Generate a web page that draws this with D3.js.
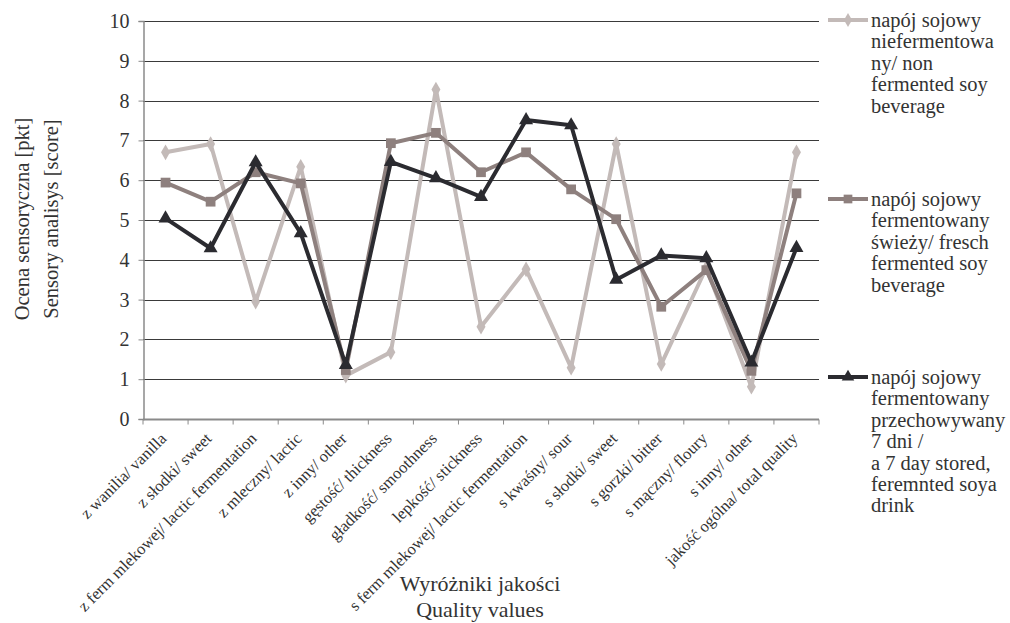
<!DOCTYPE html>
<html>
<head>
<meta charset="utf-8">
<script src="https://cdn.jsdelivr.net/npm/d3@7"></script>
<style>
  html, body { margin: 0; padding: 0; background: #fff; }
  svg { display: block; }
</style>
</head>
<body>
<svg id="chart" width="1010" height="623" font-family="Liberation Serif"></svg>
<script>
// Sensory attributes (x categories)
const categories = [
  "z wanilia/ vanilla",
  "z słodki/ sweet",
  "z ferm mlekowej/ lactic fermentation",
  "z mleczny/ lactic",
  "z inny/ other",
  "gęstość/ thickness",
  "gładkość/ smoothness",
  "lepkość/ stickness",
  "s ferm mlekowej/ lactic fermentation",
  "s kwaśny/ sour",
  "s słodki/ sweet",
  "s gorzki/ bitter",
  "s mączny/ floury",
  "s inny/ other",
  "jakość ogólna/ total quality"
];

// Scores per beverage
const nonFermented = [6.70, 6.91, 2.95, 6.34, 1.09, 1.68, 8.28, 2.32, 3.76, 1.29, 6.91, 1.38, 3.80, 0.81, 6.70];
const freshFermented = [5.94, 5.46, 6.20, 5.92, 1.23, 6.93, 7.19, 6.20, 6.70, 5.77, 5.02, 2.82, 3.74, 1.21, 5.67];
const storedFermented = [5.04, 4.29, 6.45, 4.67, 1.36, 6.46, 6.05, 5.58, 7.51, 7.38, 3.50, 4.11, 4.04, 1.42, 4.30];

const yTicks = [0, 1, 2, 3, 4, 5, 6, 7, 8, 9, 10];

const legendLabels = [
  ["napój sojowy", "niefermentowa", "ny/ non", "fermented soy", "beverage"],
  ["napój sojowy", "fermentowany", "świeży/ fresch", "fermented soy", "beverage"],
  ["napój sojowy", "fermentowany", "przechowywany", "7 dni /", "a 7 day stored,", "feremnted soya", "drink"]
];

const yTitle = ["Ocena sensoryczna [pkt]", "Sensory analisys [score]"];
const xTitle = ["Wyróżniki jakości", "Quality values"];

const FONT = "Liberation Serif";
const TEXT = "#333";

const seriesStyle = [
  { data: nonFermented, color: "#c3bab8", symbol: d3.symbolDiamond, size: 70 },
  { data: freshFermented, color: "#8e807e", symbol: d3.symbolSquare, size: 95 },
  { data: storedFermented, color: "#2b2b30", symbol: d3.symbolTriangle, size: 85 }
];

const svg = d3.select("#chart");
const m = { left: 143, right: 191, top: 21, bottom: 204 };
const W = 1010, H = 623;

const x = d3.scaleBand().domain(categories).range([m.left, W - m.right]).paddingInner(0).paddingOuter(0);
const y = d3.scaleLinear().domain([0, 10]).range([H - m.bottom, m.top]);

// Horizontal gridlines
svg.append("g")
  .selectAll("line")
  .data(yTicks.filter(t => t > 0))
  .join("line")
  .attr("x1", m.left).attr("x2", W - m.right)
  .attr("y1", d => Math.round(y(d)) + 0.5).attr("y2", d => Math.round(y(d)) + 0.5)
  .attr("stroke", "#3a3a3a").attr("stroke-width", 1);

// Y axis
const yAxis = svg.append("g")
  .attr("transform", `translate(${m.left + 0.5},0)`)
  .call(d3.axisLeft(y).tickValues(yTicks).tickSize(5).tickPadding(9).tickFormat(d3.format("d")))
  .attr("font-family", FONT);
yAxis.select(".domain").attr("stroke", "#8a8a8a").attr("stroke-width", 1.5);
yAxis.selectAll(".tick line").attr("stroke", "#8a8a8a");
yAxis.selectAll(".tick text")
  .attr("font-family", FONT)
  .attr("font-size", 20).attr("fill", TEXT);

// X axis with ticks at category boundaries
const xAxisG = svg.append("g").attr("transform", `translate(0,${Math.round(y(0)) + 0.5})`);
xAxisG.append("line")
  .attr("x1", m.left).attr("x2", W - m.right)
  .attr("stroke", "#8a8a8a").attr("stroke-width", 2);
const bounds = categories.map(c => x(c)).concat([x(categories[categories.length - 1]) + x.bandwidth()]);
xAxisG.selectAll("line.tk")
  .data(bounds)
  .join("line").attr("class", "tk")
  .attr("x1", d => d).attr("x2", d => d)
  .attr("y1", 0).attr("y2", 5)
  .attr("stroke", "#8a8a8a").attr("stroke-width", 1);

// Rotated category labels
xAxisG.selectAll("text.cat")
  .data(categories)
  .join("text").attr("class", "cat")
  .attr("transform", d => `translate(${x(d) + x.bandwidth() / 2 + 2},${20}) rotate(-45)`)
  .attr("text-anchor", "end")
  .attr("font-family", FONT)
  .attr("font-size", 16.5)
  .attr("fill", TEXT)
  .text(d => d);

// Series lines and markers
const cx = c => x(c) + x.bandwidth() / 2;
const lineGen = d3.line().x((d, i) => cx(categories[i])).y(d => y(d));

seriesStyle.forEach(s => {
  svg.append("path")
    .datum(s.data)
    .attr("d", lineGen)
    .attr("fill", "none")
    .attr("stroke", s.color)
    .attr("stroke-width", 4)
    .attr("stroke-linejoin", "round");
  svg.append("g")
    .selectAll("path")
    .data(s.data)
    .join("path")
    .attr("transform", (d, i) => `translate(${cx(categories[i])},${y(d)})`)
    .attr("d", d3.symbol().type(s.symbol).size(s.size))
    .attr("fill", s.color);
});

// Legend
const legendY = [20, 199, 377];
seriesStyle.forEach((s, k) => {
  const g = svg.append("g").attr("transform", `translate(828,${legendY[k]})`);
  g.append("line").attr("x1", 0).attr("x2", 40).attr("y1", 0).attr("y2", 0)
    .attr("stroke", s.color).attr("stroke-width", 4);
  g.append("path").attr("transform", "translate(20,0)")
    .attr("d", d3.symbol().type(s.symbol).size(s.size * 0.8))
    .attr("fill", s.color);
  g.selectAll("text")
    .data(legendLabels[k])
    .join("text")
    .attr("x", 43)
    .attr("y", (d, i) => 7 + i * 21.4)
    .attr("font-family", FONT)
    .attr("font-size", 20.5)
    .attr("fill", TEXT)
    .text(d => d);
});

// Y axis title
const yt = svg.append("g").attr("transform", `translate(0,219)`);
yTitle.forEach((t, i) => {
  yt.append("text")
    .attr("transform", `translate(${29 + i * 29},0) rotate(-90)`)
    .attr("text-anchor", "middle")
    .attr("font-family", FONT)
    .attr("font-size", 20.5)
    .attr("fill", TEXT)
    .text(t);
});

// X axis title
xTitle.forEach((t, i) => {
  svg.append("text")
    .attr("x", 480).attr("y", 591 + i * 26)
    .attr("text-anchor", "middle")
    .attr("font-family", FONT)
    .attr("font-size", 22)
    .attr("fill", TEXT)
    .text(t);
});
</script>
</body>
</html>
